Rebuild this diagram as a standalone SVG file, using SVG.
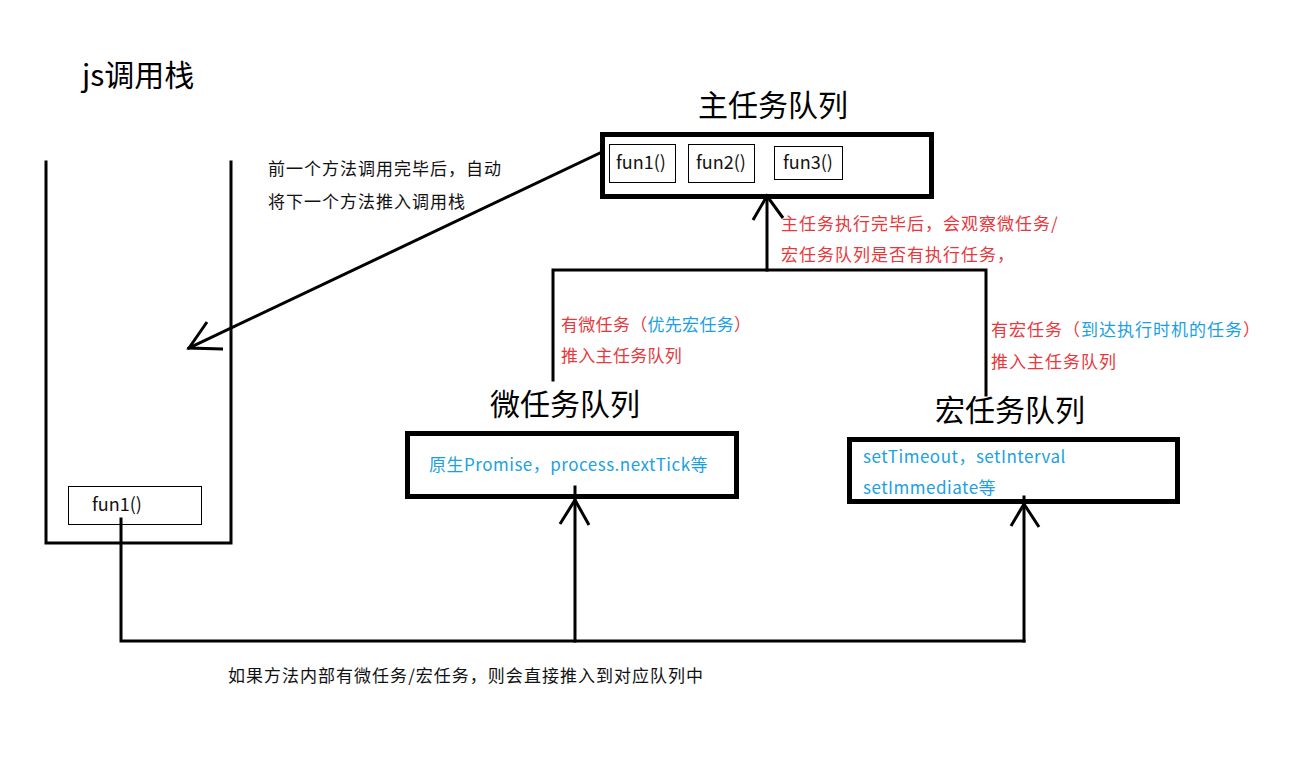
<svg xmlns="http://www.w3.org/2000/svg" width="1314" height="771" viewBox="0 0 1314 771">
<defs>
<style>
text{font-family:"Noto Sans CJK SC","Noto Sans",sans-serif;}
.title{font-size:30px;fill:#000;}
.lbl{font-size:17px;}
.blk{fill:#111;}
.red{fill:#E8383D;}
.blue{fill:#1BA1E2;}
.fn{font-size:18px;fill:#111;}
.thick{fill:none;stroke:#000;stroke-width:5;}
.thin{fill:#fff;stroke:#000;stroke-width:1;}
.wire{fill:none;stroke:#000;stroke-width:3;stroke-linecap:square;}
.head{fill:none;stroke:#000;stroke-width:3;stroke-linejoin:miter;}
</style>
</defs>
<rect width="1314" height="771" fill="#fff"/>

<g id="call-stack">
<text class="title" x="82" y="86">js调用栈</text>
<path class="wire" d="M46 162 V543 H231 V162" stroke-width="4" stroke-linecap="butt"/>
<g id="stack-fun1">
<rect class="thin" x="68.5" y="486.5" width="133" height="38"/>
<text class="fn" x="92" y="511">fun1()</text>
</g>
</g>

<g id="main-queue">
<text class="title" x="698" y="116">主任务队列</text>
<rect class="thick" x="602.5" y="134.5" width="329" height="62"/>
<g id="main-fun1"><rect class="thin" x="609.5" y="144.5" width="66" height="38"/><text class="fn" x="616" y="169">fun1()</text></g>
<g id="main-fun2"><rect class="thin" x="688.5" y="144.5" width="66" height="38"/><text class="fn" x="696" y="169">fun2()</text></g>
<g id="main-fun3"><rect class="thin" x="774.5" y="146.5" width="68" height="33"/><text class="fn" x="783" y="169">fun3()</text></g>
</g>

<g id="micro-queue">
<text class="title" x="490" y="415">微任务队列</text>
<rect class="thick" x="407.5" y="433.5" width="329" height="63"/>
<text class="lbl blue" x="429" y="471" letter-spacing="0.5">原生Promise，process.nextTick等</text>
</g>

<g id="macro-queue">
<text class="title" x="935" y="421">宏任务队列</text>
<rect class="thick" x="849.5" y="439.5" width="328" height="62"/>
<text class="lbl blue" x="863" y="463" letter-spacing="0.5">setTimeout，setInterval</text>
<text class="lbl blue" x="863" y="494" letter-spacing="0.5">setImmediate等</text>
</g>

<g id="connectors">
<!-- main queue -> call stack -->
<path class="wire" d="M600 153 L189 348"/>
<path class="head" d="M207 322 L189 348 L223 349"/>
<!-- micro/macro -> main queue -->
<path class="wire" d="M553 380 V270 H986 V395"/>
<path class="wire" d="M767 270 V198"/>
<path class="head" d="M753 220 L767 196 L783 218"/>
<!-- call stack fun1 -> micro/macro queues -->
<path class="wire" d="M121 519 V641 H1024"/>
<path class="wire" d="M575 641 V487"/>
<path class="head" d="M560 524 L575 500 L589 525"/>
<path class="wire" d="M1024 641 V497"/>
<path class="head" d="M1011 526 L1024 504 L1039 527"/>
</g>

<g id="labels">
<text class="lbl blk" x="268" y="175" letter-spacing="1">前一个方法调用完毕后，自动</text>
<text class="lbl blk" x="268" y="208" letter-spacing="1">将下一个方法推入调用栈</text>
<text class="lbl red" x="781" y="230" letter-spacing="1">主任务执行完毕后，会观察微任务/</text>
<text class="lbl red" x="781" y="261" letter-spacing="1">宏任务队列是否有执行任务，</text>
<text class="lbl red" x="561" y="331" letter-spacing="0.3">有微任务（<tspan class="blue">优先宏任务</tspan>）</text>
<text class="lbl red" x="561" y="362" letter-spacing="0.3">推入主任务队列</text>
<text class="lbl red" x="991" y="336" letter-spacing="1">有宏任务（<tspan class="blue">到达执行时机的任务</tspan>）</text>
<text class="lbl red" x="991" y="368" letter-spacing="1">推入主任务队列</text>
<text class="lbl blk" x="228" y="682" textLength="475">如果方法内部有微任务/宏任务，则会直接推入到对应队列中</text>
</g>
</svg>
